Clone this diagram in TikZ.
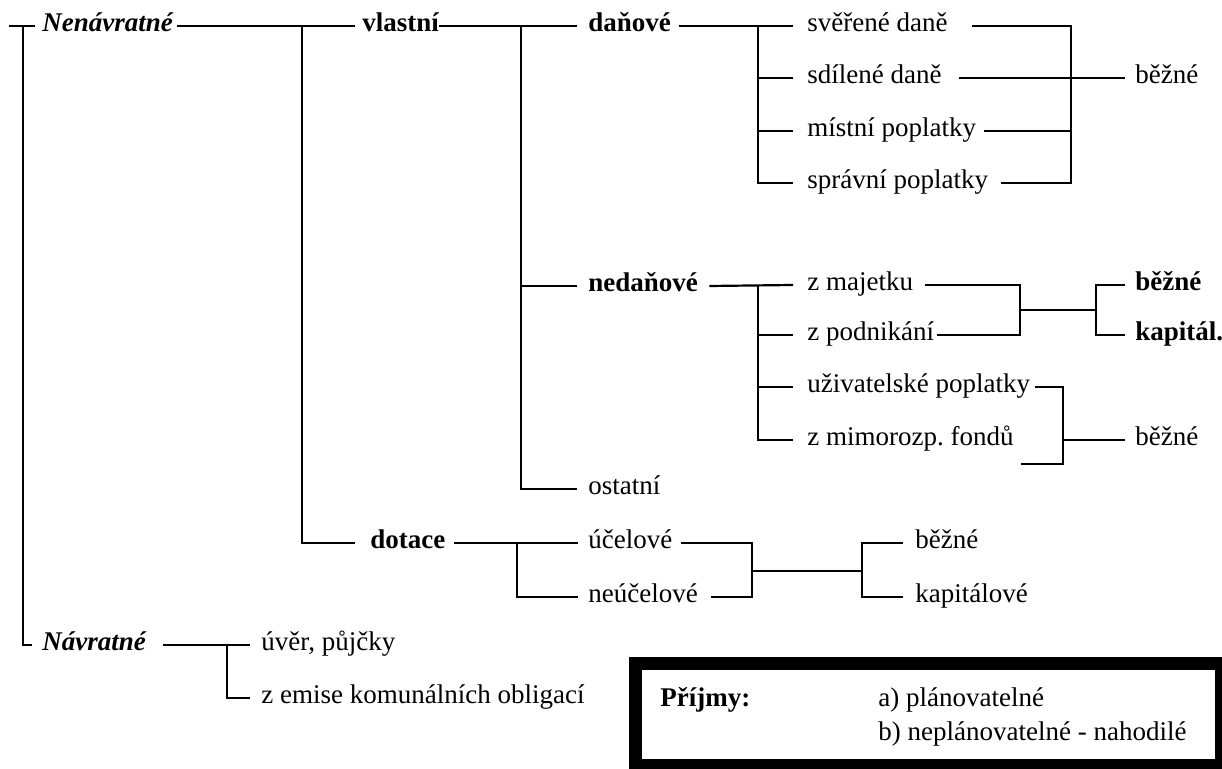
\documentclass[tikz,border=0pt]{standalone}
\usepackage{fontspec}
\setmainfont{Liberation Serif}
\usetikzlibrary{positioning}

\begin{document}
\begin{tikzpicture}[x=0.5pt, y=-0.5pt,
  lbl/.style={anchor=west, inner sep=0pt, text height=9pt, text depth=3pt,
              font=\fontsize{13.5}{16}\selectfont},
  lblb/.style={lbl, font=\fontsize{13.5}{16}\selectfont\bfseries},
  lblbi/.style={lbl, font=\fontsize{13.5}{16}\selectfont\bfseries\itshape},
  ln/.style={line width=1.1pt}]
\useasboundingbox (0,0) rectangle (1222,769);
% columns of the brackets
\coordinate (c1) at (23,0);
\coordinate (c2) at (302,0);
\coordinate (c3) at (521,0);
\coordinate (c4) at (758,0);
\coordinate (c5) at (1071,0);
\coordinate (c6) at (1020,0);
\coordinate (c7) at (1096,0);
\coordinate (c8) at (1063,0);
\coordinate (c9) at (517,0);
\coordinate (c10) at (752,0);
\coordinate (c11) at (862,0);
\coordinate (c12) at (227,0);
\coordinate (tick) at (9,26);
\coordinate (ub) at (1021,464);
\coordinate (mid1) at (1020,310);
\coordinate (mid2) at (752,571);
% first level
\node[lblbi] (nen) at (42,26) {Nenávratné};
\node[lblbi] (nav) at (42,645) {Návratné};
% second level
\node[lblb] (vl) at (362,26) {vlastní};
\node[lblb] (dot) at (370,543) {dotace};
\node[lbl] (uv) at (261,645) {úvěr, půjčky};
\node[lbl] (em) at (261,698) {z emise komunálních obligací};
% third level
\node[lblb] (dan) at (588,26) {daňové};
\node[lblb] (ned) at (588,286) {nedaňové};
\node[lbl] (ost) at (588,489) {ostatní};
\node[lbl] (uce) at (588,543) {účelové};
\node[lbl] (neu) at (588,597) {neúčelové};
% fourth level
\node[lbl] (sve) at (807,26) {svěřené daně};
\node[lbl] (sdi) at (807,78) {sdílené daně};
\node[lbl] (mis) at (807,131) {místní poplatky};
\node[lbl] (spr) at (807,183) {správní poplatky};
\node[lbl] (maj) at (807,285) {z majetku};
\node[lbl] (pod) at (807,335) {z podnikání};
\node[lbl] (uzi) at (807,387) {uživatelské poplatky};
\node[lbl] (mim) at (807,440) {z mimorozp.\ fondů};
% last column
\node[lbl] (bez1) at (1135,78) {běžné};
\node[lblb] (bez2) at (1135,285) {běžné};
\node[lblb] (kap1) at (1135,335) {kapitál.};
\node[lbl] (bez3) at (1135,440) {běžné};
\node[lbl] (bez4) at (915,543) {běžné};
\node[lbl] (kap2) at (915,597) {kapitálové};
% top level lines
\draw[ln] (tick) -- ([xshift=-3.5pt]nen.west);
\draw[ln] (nen.west -| c1) |- ([xshift=-5pt]nav.west);
\draw[ln] ([xshift=2pt]nen.east) -- ([xshift=-3.5pt]vl.west);
\draw[ln] (nen.east -| c2) |- ([xshift=-7.5pt]dot.west);
\draw[ln] (vl.east) -- ([xshift=-5.5pt]dan.west);
\draw[ln] (vl.east -| c3) |- ([xshift=-5.5pt]ost.west);
\draw[ln] (ned.west -| c3) -- ([xshift=-5.5pt]ned.west);
% danove
\draw[ln] ([xshift=4pt]dan.east) -- ([xshift=-7pt]sve.west);
\draw[ln] (dan.east -| c4) |- ([xshift=-7pt]spr.west);
\foreach \n in {sdi,mis}
  \draw[ln] (\n.west -| c4) -- ([xshift=-7pt]\n.west);
\draw[ln] ([xshift=12pt]sve.east) -| (spr.east -| c5) -- ([xshift=6pt]spr.east);
\draw[ln] ([xshift=3.5pt]mis.east) -- (mis.east -| c5);
\draw[ln] ([xshift=8.5pt]sdi.east) -- ([xshift=-5pt]bez1.west);
% nedanove
\draw[ln] ([xshift=5.5pt]ned.east) -- ([xshift=-7pt]maj.west);
\draw[ln] (ned.east -| c4) |- ([xshift=-7pt]mim.west);
\foreach \n in {pod,uzi}
  \draw[ln] (\n.west -| c4) -- ([xshift=-7pt]\n.west);
\draw[ln] ([xshift=5.5pt]maj.east) -| (pod.east -| c6) -- ([xshift=1pt]pod.east);
\draw[ln] (mid1) -- (mid1 -| c7);
\draw[ln] ([xshift=-5pt]bez2.west) -| (kap1.west -| c7) -- ([xshift=-5pt]kap1.west);
\draw[ln] ([xshift=2.5pt]uzi.east) -| (ub -| c8) -- (ub);
\draw[ln] (bez3.west -| c8) -- ([xshift=-5pt]bez3.west);
% dotace
\draw[ln] ([xshift=4pt]dot.east) -- ([xshift=-5pt]uce.west);
\draw[ln] (dot.east -| c9) |- ([xshift=-5pt]neu.west);
\draw[ln] ([xshift=4pt]uce.east) -| (neu.east -| c10) -- ([xshift=6.5pt]neu.east);
\draw[ln] (mid2) -- (mid2 -| c11);
\draw[ln] ([xshift=-6pt]bez4.west) -| (kap2.west -| c11) -- ([xshift=-6pt]kap2.west);
% navratne
\draw[ln] ([xshift=8.5pt]nav.east) -- ([xshift=-5.5pt]uv.west);
\draw[ln] (nav.east -| c12) |- ([xshift=-5.5pt]em.west);
% box
\node[draw, line width=6.5pt, minimum width=293pt, minimum height=51pt, inner sep=0pt] (box) at (928.5,714.5) {};
\node[lblb] (prij) at (660,701) {Příjmy:};
\node[lbl] (pa) at (878,701) {a) plánovatelné};
\node[lbl] (pb) at (878,735) {b) neplánovatelné - nahodilé};
\end{tikzpicture}
\end{document}
